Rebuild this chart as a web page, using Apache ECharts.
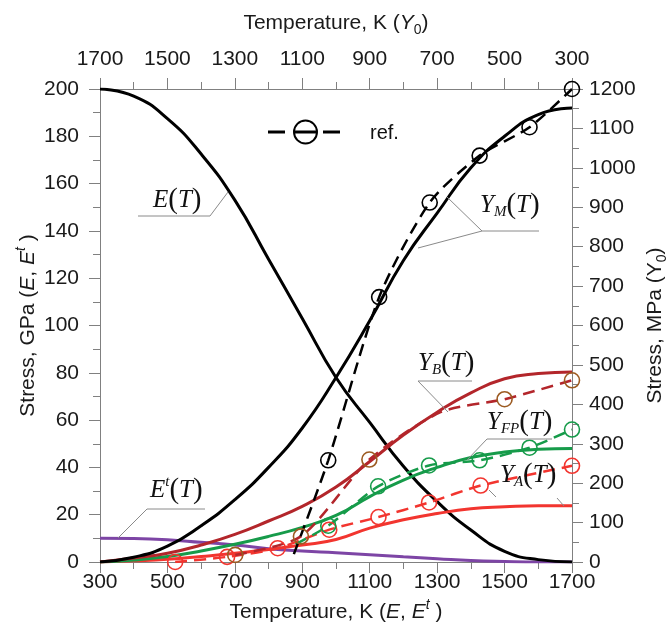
<!DOCTYPE html>
<html><head><meta charset="utf-8">
<script src="https://cdn.jsdelivr.net/npm/echarts@6/dist/echarts.min.js"></script>
<style>html,body{margin:0;padding:0;background:#fff}#c{width:670px;height:631px}</style>
</head><body><div id="c"></div>
<script>
// ---- data ----
const T_E = [300,400,500,600,700,800,900,1000,1100,1200,1300,1400,1500,1600,1700];
const E_vals = [200,197,187.5,172.5,153,128,103,78,59,40.5,25.5,13.5,4.5,1,0];
const Et_vals = [10,9.9,9.4,8.3,7.2,5.6,4.6,3.9,3.1,2.2,1.4,0.6,0.2,0,0];

const T_Y = [300,400,500,600,700,800,900,1000,1100,1200,1300,1400,1500,1600,1700];
const YM_vals = [1152,1135,1080,1000,885,765,612,468,340,240,158,92,40,12,0];
const YB_vals = [482,478,465,429,380,322,255,190,141,104,70,43,22,10,0];
const YFP_vals = [288,286,279,265,240,208,166,118,88,65,45,28,14,5,0];
const YA_vals = [143,143,140,135,123,107,86,57,43,32,22,14,7,3,0];

const refM_T = [1125,1023,872,722,574,426,300];
const refM_V = [20,258,672,912,1031,1103,1200];
const refM_mark = [0,1,1,1,1,1,1];
const refB_T = [1299,1104,901,690,500,300];
const refB_V = [18,65,260,380,413,461];
const refB_mark = [1,1,1,0,1,1];
const refFP_T = [1120,1023,875,724,574,426,300];
const refFP_V = [45,92,192,245,258,290,336];
const refFP_mark = [0,1,1,1,1,1,1];
const refA_T = [1477,1323,1173,1020,874,724,571,300];
const refA_V = [0,13,35,82,114,151,194,244];
const refA_mark = [1,1,1,1,1,1,1,1];

// ---- styles ----
const SANS = 'Liberation Sans, Arial, sans-serif';
const SERIF = 'Liberation Serif, Times New Roman, serif';
const AX = '#808080';
const TXT = '#1a1a1a';
const C_BLACK = '#000000', C_DRED = '#B3262B', C_BROWN = '#9C5B22', C_GREEN = '#169B4A', C_RED = '#F2352F', C_PURPLE = '#7D45A5';

const pairs = (xs, ys) => xs.map((x,i)=>[x, ys[i]]);
const refData = (xs, ys, mk) => xs.map((x,i)=> mk[i] ? [x, ys[i]] : {value:[x, ys[i]], symbol:'none'});
const plain = v => String(v);

const nameRich = {
  n:{fontFamily:SANS, fontSize:21, color:TXT, lineHeight:28},
  i:{fontFamily:SANS, fontSize:21, fontStyle:'italic', color:TXT, lineHeight:28},
  sub:{fontFamily:SANS, fontSize:14, color:TXT, lineHeight:14, verticalAlign:'bottom'},
  sup:{fontFamily:SANS, fontSize:14, fontStyle:'italic', color:TXT, lineHeight:14, verticalAlign:'top'}
};

function valAxis(extra){
  return Object.assign({
    type:'value',
    axisLine:{show:true, onZero:false, lineStyle:{color:AX, width:1}},
    axisTick:{show:true, length:11, lineStyle:{color:AX, width:1}},
    minorTick:{show:true, splitNumber:2, length:7, lineStyle:{color:AX, width:1}},
    splitLine:{show:false},
    minorSplitLine:{show:false},
    nameTextStyle:{fontFamily:SANS, fontSize:21, color:TXT, rich:nameRich},
    nameLocation:'middle',
    nameMoveOverlap:false
  }, extra);
}
function lab(margin){ return {fontFamily:SANS, fontSize:21, color:TXT, margin, formatter:plain, showMinLabel:true, showMaxLabel:true}; }

function solid(name, xi, yi, xs, ys, color){
  return {name, type:'line', xAxisIndex:xi, yAxisIndex:yi, data:pairs(xs,ys), smooth:true, symbol:'none',
    lineStyle:{color, width:3}, itemStyle:{color}, emphasis:{disabled:true}, z:3};
}
function ref(name, xs, ys, mk, lineColor, circColor){
  return {name, type:'line', xAxisIndex:1, yAxisIndex:1, data:refData(xs,ys,mk), smooth:0.25,
    symbol:'circle', symbolSize:15, showAllSymbol:true,
    lineStyle:{color:lineColor, width:2.5, type:[12,7]},
    itemStyle:{color:'rgba(255,255,255,0)', borderColor:circColor, borderWidth:1.6},
    emphasis:{disabled:true}, z:4};
}

const LBL = {
  i:{fontFamily:SERIF, fontStyle:'italic', fontSize:25, fill:'#111', lineHeight:30, verticalAlign:'middle'},
  p:{fontFamily:SERIF, fontSize:29, fill:'#111', lineHeight:30, verticalAlign:'middle'},
  sub:{fontFamily:SERIF, fontStyle:'italic', fontSize:15, fill:'#111', lineHeight:15, verticalAlign:'bottom'},
  sup:{fontFamily:SERIF, fontStyle:'italic', fontSize:15, fill:'#111', lineHeight:15, verticalAlign:'top'}
};
function lbl(text, x, y){
  return {type:'text', x, y, silent:true, style:{text, rich:LBL, fill:'#111', font:'25px '+SERIF, textVerticalAlign:'middle'}, z:10};
}
function lead(points){
  return {type:'polyline', silent:true, shape:{points}, style:{stroke:'#8a8a8a', lineWidth:1, fill:null}, z:10};
}

const chart = echarts.init(document.getElementById('c'), null, {renderer:'canvas'});
chart.setOption({
  animation:false,
  backgroundColor:'#fff',
  grid:{left:100, right:98, top:89, bottom:69, containLabel:false, outerBoundsMode:'none'},
  xAxis:[
    valAxis({position:'bottom', min:300, max:1700, interval:200, axisLabel:lab(10),
      name:'{n|Temperature, K (}{i|E}{n|, }{i|E}{sup|t}{n| )}', nameGap:36}),
    valAxis({position:'top', inverse:true, min:300, max:1700, interval:200, axisLabel:lab(19),
      name:'{n|Temperature, K (}{i|Y}{sub|0}{n|)}', nameGap:52})
  ],
  yAxis:[
    valAxis({position:'left', min:0, max:200, interval:20, axisLabel:lab(21),
      name:'{n|Stress, GPa (}{i|E}{n|, }{i|E}{sup|t}{n| )}', nameGap:58, nameRotate:90}),
    valAxis({position:'right', min:0, max:1200, interval:100, axisLabel:lab(17),
      name:'{n|Stress, MPa (Y}{sub|0}{n|)}', nameGap:69, nameRotate:90})
  ],
  series:[
    solid('Et', 0, 0, T_E, Et_vals, C_PURPLE),
    solid('E', 0, 0, T_E, E_vals, C_BLACK),
    solid('YA', 1, 1, T_Y, YA_vals, C_RED),
    solid('YFP', 1, 1, T_Y, YFP_vals, C_GREEN),
    solid('YB', 1, 1, T_Y, YB_vals, C_DRED),
    solid('YM', 1, 1, T_Y, YM_vals, C_BLACK),
    ref('refA', refA_T, refA_V, refA_mark, C_RED, C_RED),
    ref('refFP', refFP_T, refFP_V, refFP_mark, C_GREEN, C_GREEN),
    ref('refB', refB_T, refB_V, refB_mark, C_DRED, C_BROWN),
    ref('refM', refM_T, refM_V, refM_mark, C_BLACK, C_BLACK)
  ],
  graphic:[
    {type:'line', silent:true, shape:{x1:268,y1:132,x2:285,y2:132}, style:{stroke:'#000', lineWidth:3}},
    {type:'line', silent:true, shape:{x1:294,y1:132,x2:317,y2:132}, style:{stroke:'#000', lineWidth:3}},
    {type:'line', silent:true, shape:{x1:323,y1:132,x2:340,y2:132}, style:{stroke:'#000', lineWidth:3}},
    {type:'circle', silent:true, shape:{cx:305.5,cy:132,r:11.5}, style:{stroke:'#000', lineWidth:2, fill:null}},
    {type:'text', silent:true, x:370, y:133, style:{text:'ref.', font:'20px '+SANS, fill:'#111', textVerticalAlign:'middle'}},
    lead([[138,216],[210,216],[228,192]]),
    lbl('{i|E}{p|(}{i|T}{p|)}', 153, 200),
    lead([[118,538],[147,509],[205,509]]),
    lbl('{i|E}{sup|t}{p|(}{i|T}{p|)}', 150, 490),
    lead([[447,197],[482,231],[539,231]]),
    lead([[418,248],[482,231]]),
    lbl('{i|Y}{sub|M}{p|(}{i|T}{p|)}', 480, 205),
    lead([[448,412],[418,381],[472,381]]),
    lbl('{i|Y}{sub|B}{p|(}{i|T}{p|)}', 418, 363),
    lead([[467,460],[487,439],[552,439]]),
    lbl('{i|Y}{sub|FP}{p|(}{i|T}{p|)}', 487, 422),
    lead([[489,490],[496,497]]),
    lead([[557,498],[564,506]]),
    lbl('{i|Y}{sub|A}{p|(}{i|T}{p|)}', 500, 475)
  ]
});
</script></body></html>
